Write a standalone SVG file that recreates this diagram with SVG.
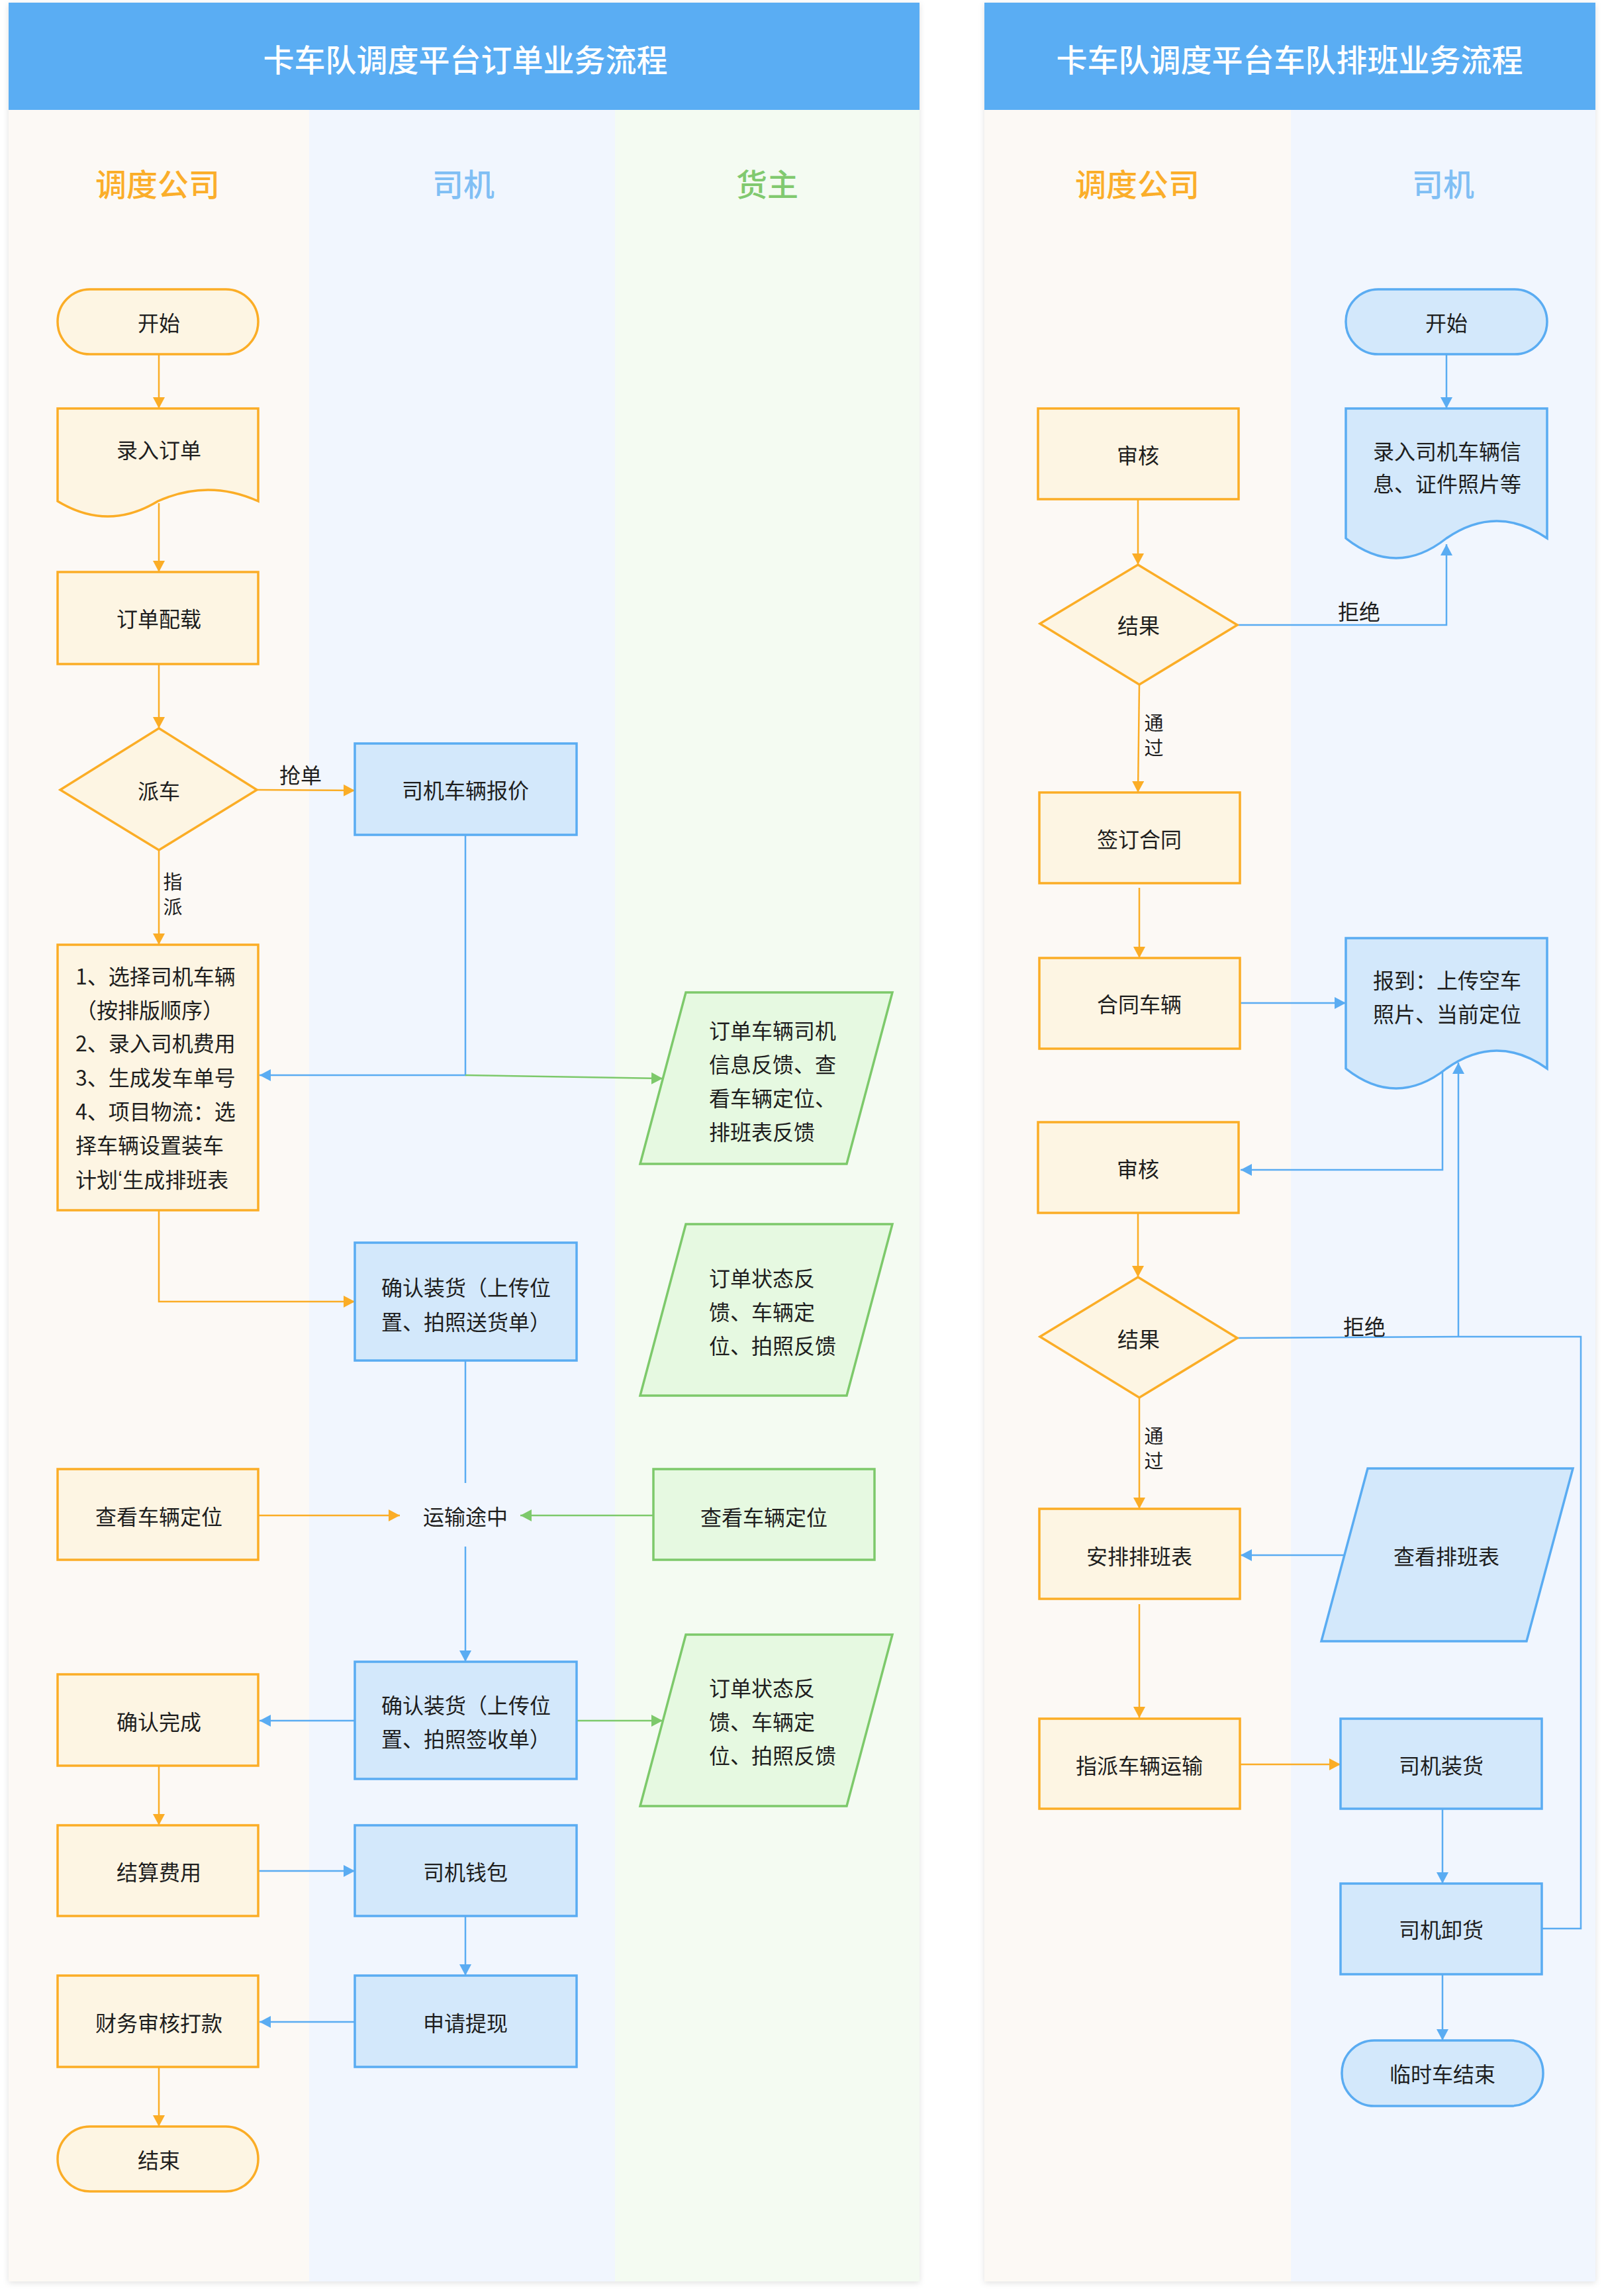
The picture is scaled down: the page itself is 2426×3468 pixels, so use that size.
<svg xmlns="http://www.w3.org/2000/svg" width="2426" height="3468" viewBox="0 0 2426 3468">
<style>
text{font-family:"Noto Sans CJK SC","Noto Sans",sans-serif;fill:#1e1e1e;font-size:32px}
.c{text-anchor:middle;dominant-baseline:central}
.l{text-anchor:start;dominant-baseline:central}
.v{font-size:29px;text-anchor:middle;dominant-baseline:central}
.title{fill:#ffffff;font-size:47px;font-weight:500;text-anchor:middle;dominant-baseline:central}
.lh{font-size:47px;font-weight:500;text-anchor:middle;dominant-baseline:central}
.o{fill:#FDF5E3;stroke:#FBAD26;stroke-width:3.5}
.b{fill:#D3E8FB;stroke:#5AACF2;stroke-width:3.5}
.g{fill:#E6F9E1;stroke:#7DC96B;stroke-width:3.5}
.lo{fill:none;stroke:#FBAD26;stroke-width:2.5}
.lb{fill:none;stroke:#5AACF2;stroke-width:2.5}
.lg{fill:none;stroke:#7DC96B;stroke-width:2.5}
</style>
<defs>
<filter id="sh" x="-5%" y="-5%" width="110%" height="110%">
<feDropShadow dx="0" dy="2" stdDeviation="5" flood-color="#000" flood-opacity="0.12"/>
</filter>
<marker id="ao" markerUnits="userSpaceOnUse" markerWidth="18" markerHeight="18" refX="17" refY="9" orient="auto"><path d="M0,0 L17,9 L0,18 Z" fill="#FBAD26"/></marker>
<marker id="ab" markerUnits="userSpaceOnUse" markerWidth="18" markerHeight="18" refX="17" refY="9" orient="auto"><path d="M0,0 L17,9 L0,18 Z" fill="#5AACF2"/></marker>
<marker id="ag" markerUnits="userSpaceOnUse" markerWidth="18" markerHeight="18" refX="17" refY="9" orient="auto"><path d="M0,0 L17,9 L0,18 Z" fill="#7DC96B"/></marker>
</defs>
<rect width="2426" height="3468" fill="#ffffff"/>

<g id="panel-left">
<rect x="13" y="4" width="1376" height="3442" fill="#ffffff" filter="url(#sh)"/>
<rect x="13" y="166" width="454" height="3280" fill="#FCF9F5"/>
<rect x="467" y="166" width="462" height="3280" fill="#F1F6FE"/>
<rect x="929" y="166" width="460" height="3280" fill="#F4FBF2"/>
<rect x="13" y="4" width="1376" height="162" fill="#5AADF3"/>
<text class="title" x="703" y="87">卡车队调度平台订单业务流程</text>
<text class="lh" x="238" y="275" style="fill:#FBAE2A">调度公司</text>
<text class="lh" x="700" y="275" style="fill:#80BFF4">司机</text>
<text class="lh" x="1159" y="275" style="fill:#81C96F">货主</text>
</g>

<g id="panel-right">
<rect x="1487" y="4" width="923" height="3442" fill="#ffffff" filter="url(#sh)"/>
<rect x="1487" y="166" width="463" height="3280" fill="#FCF9F5"/>
<rect x="1950" y="166" width="460" height="3280" fill="#F1F6FE"/>
<rect x="1487" y="4" width="923" height="162" fill="#5AADF3"/>
<text class="title" x="1948" y="87">卡车队调度平台车队排班业务流程</text>
<text class="lh" x="1718" y="275" style="fill:#FBAE2A">调度公司</text>
<text class="lh" x="2180" y="275" style="fill:#80BFF4">司机</text>
</g>

<g id="connectors">
<path class="lo" d="M240,535 V617" marker-end="url(#ao)"/>
<path class="lo" d="M240,760 V864" marker-end="url(#ao)"/>
<path class="lo" d="M240,1003 V1100" marker-end="url(#ao)"/>
<path class="lo" d="M388,1193 L536,1194" marker-end="url(#ao)"/>
<path class="lo" d="M240,1284 V1427" marker-end="url(#ao)"/>
<path class="lb" d="M703,1261 V1624 H392" marker-end="url(#ab)"/>
<path class="lg" d="M703,1624 L1001,1629" marker-end="url(#ag)"/>
<path class="lo" d="M240,1828 V1966 H536" marker-end="url(#ao)"/>
<path class="lb" d="M703,2055 V2240"/>
<path class="lo" d="M390,2289 H604" marker-end="url(#ao)"/>
<path class="lg" d="M987,2289 H786" marker-end="url(#ag)"/>
<path class="lb" d="M703,2336 V2510" marker-end="url(#ab)"/>
<path class="lb" d="M536,2599 H392" marker-end="url(#ab)"/>
<path class="lg" d="M871,2599 H1001" marker-end="url(#ag)"/>
<path class="lo" d="M240,2667 V2757" marker-end="url(#ao)"/>
<path class="lb" d="M390,2826 H536" marker-end="url(#ab)"/>
<path class="lb" d="M703,2894 V2984" marker-end="url(#ab)"/>
<path class="lb" d="M536,3054 H392" marker-end="url(#ab)"/>
<path class="lo" d="M240,3122 V3212" marker-end="url(#ao)"/>

<path class="lb" d="M2185,535 V617" marker-end="url(#ab)"/>
<path class="lo" d="M1719,754 V853" marker-end="url(#ao)"/>
<path class="lb" d="M1869,944 H2185 V822" marker-end="url(#ab)"/>
<path class="lo" d="M1721,1034 L1719,1197" marker-end="url(#ao)"/>
<path class="lo" d="M1721,1341 V1447" marker-end="url(#ao)"/>
<path class="lb" d="M1873,1515 H2033" marker-end="url(#ab)"/>
<path class="lb" d="M2179,1617 V1767 H1874" marker-end="url(#ab)"/>
<path class="lo" d="M1719,1832 V1929" marker-end="url(#ao)"/>
<path class="lb" d="M1869,2021 L2203,2019"/>
<path class="lb" d="M2329,2913 H2388 V2019 H2203"/>
<path class="lb" d="M2203,2019 V1605" marker-end="url(#ab)"/>
<path class="lo" d="M1721,2111 V2279" marker-end="url(#ao)"/>
<path class="lb" d="M2031,2349 H1874" marker-end="url(#ab)"/>
<path class="lo" d="M1721,2423 V2595" marker-end="url(#ao)"/>
<path class="lo" d="M1873,2665 H2025" marker-end="url(#ao)"/>
<path class="lb" d="M2179,2732 V2845" marker-end="url(#ab)"/>
<path class="lb" d="M2179,2982 V3082" marker-end="url(#ab)"/>
</g>

<g id="label-qiangdan"><text class="c" x="454" y="1169">抢单</text></g>
<g id="label-zhipai"><text class="v" x="261" y="1330">指</text><text class="v" x="261" y="1368">派</text></g>
<g id="label-jujue1"><text class="c" x="2053" y="922">拒绝</text></g>
<g id="label-tongguo1"><text class="v" x="1743" y="1090">通</text><text class="v" x="1743" y="1128">过</text></g>
<g id="label-jujue2"><text class="c" x="2061" y="2002">拒绝</text></g>
<g id="label-tongguo2"><text class="v" x="1743" y="2167">通</text><text class="v" x="1743" y="2205">过</text></g>

<g id="n-start"><rect class="o" x="87" y="437" width="303" height="98" rx="49"/><text class="c" x="240" y="486">开始</text></g>
<g id="n-input-order"><path class="o" d="M87,617 H390 V757 C339.5,734.3 289,734.3 238.5,757 C188,787.7 137.5,787.7 87,757 Z"/><text class="c" x="240" y="678">录入订单</text></g>
<g id="n-order-load"><rect class="o" x="87" y="864" width="303" height="139"/><text class="c" x="240" y="933">订单配载</text></g>
<g id="n-dispatch"><polygon class="o" points="240,1100 388,1193 240,1284 91,1193"/><text class="c" x="240" y="1193">派车</text></g>
<g id="n-quote"><rect class="b" x="536" y="1123" width="335" height="138"/><text class="c" x="703" y="1192">司机车辆报价</text></g>
<g id="n-select"><rect class="o" x="87" y="1427" width="303" height="401"/>
<text class="l" x="114" y="1473">1、选择司机车辆</text>
<text class="l" x="114" y="1524">（按排版顺序）</text>
<text class="l" x="114" y="1574">2、录入司机费用</text>
<text class="l" x="114" y="1626">3、生成发车单号</text>
<text class="l" x="114" y="1677">4、项目物流：选</text>
<text class="l" x="114" y="1728">择车辆设置装车</text>
<text class="l" x="114" y="1780">计划<tspan style="font-family:'Liberation Sans',sans-serif">‘</tspan>生成排班表</text>
</g>
<g id="n-feedback1"><polygon class="g" points="1036,1499 1348,1499 1279,1758 967,1758"/>
<text class="l" x="1071" y="1555">订单车辆司机</text>
<text class="l" x="1071" y="1606">信息反馈、查</text>
<text class="l" x="1071" y="1657">看车辆定位、</text>
<text class="l" x="1071" y="1708">排班表反馈</text>
</g>
<g id="n-confirm-load"><rect class="b" x="536" y="1877" width="335" height="178"/>
<text class="l" x="576" y="1943">确认装货（上传位</text>
<text class="l" x="576" y="1995">置、拍照送货单）</text>
</g>
<g id="n-feedback2"><polygon class="g" points="1036,1849 1348,1849 1279,2108 967,2108"/>
<text class="l" x="1071" y="1929">订单状态反</text>
<text class="l" x="1071" y="1980">馈、车辆定</text>
<text class="l" x="1071" y="2031">位、拍照反馈</text>
</g>
<g id="n-view-loc-o"><rect class="o" x="87" y="2219" width="303" height="137"/><text class="c" x="240" y="2289">查看车辆定位</text></g>
<g id="n-transit"><text class="c" x="703" y="2289">运输途中</text></g>
<g id="n-view-loc-g"><rect class="g" x="987" y="2219" width="334" height="137"/><text class="c" x="1154" y="2290">查看车辆定位</text></g>
<g id="n-confirm-sign"><rect class="b" x="536" y="2510" width="335" height="177"/>
<text class="l" x="576" y="2574">确认装货（上传位</text>
<text class="l" x="576" y="2625">置、拍照签收单）</text>
</g>
<g id="n-feedback3"><polygon class="g" points="1036,2469 1348,2469 1279,2728 967,2728"/>
<text class="l" x="1071" y="2548">订单状态反</text>
<text class="l" x="1071" y="2599">馈、车辆定</text>
<text class="l" x="1071" y="2650">位、拍照反馈</text>
</g>
<g id="n-complete"><rect class="o" x="87" y="2529" width="303" height="138"/><text class="c" x="240" y="2599">确认完成</text></g>
<g id="n-settle"><rect class="o" x="87" y="2757" width="303" height="137"/><text class="c" x="240" y="2826">结算费用</text></g>
<g id="n-wallet"><rect class="b" x="536" y="2757" width="335" height="137"/><text class="c" x="703" y="2826">司机钱包</text></g>
<g id="n-withdraw"><rect class="b" x="536" y="2984" width="335" height="138"/><text class="c" x="703" y="3054">申请提现</text></g>
<g id="n-finance"><rect class="o" x="87" y="2984" width="303" height="138"/><text class="c" x="240" y="3054">财务审核打款</text></g>
<g id="n-end"><rect class="o" x="87" y="3212" width="303" height="98" rx="49"/><text class="c" x="240" y="3261">结束</text></g>

<g id="r-start"><rect class="b" x="2033" y="437" width="304" height="98" rx="49"/><text class="c" x="2185" y="486">开始</text></g>
<g id="r-input-driver"><path class="b" d="M2033,617 H2337 V813 C2286.3,778.3 2235.7,778.3 2185,813 C2134.3,853 2083.7,853 2033,813 Z"/>
<text class="l" x="2074" y="680">录入司机车辆信</text>
<text class="l" x="2074" y="729">息、证件照片等</text>
</g>
<g id="r-review1"><rect class="o" x="1568" y="617" width="303" height="137"/><text class="c" x="1719" y="686">审核</text></g>
<g id="r-result1"><polygon class="o" points="1719,853 1869,944 1721,1034 1571,942"/><text class="c" x="1720" y="943">结果</text></g>
<g id="r-contract"><rect class="o" x="1570" y="1197" width="303" height="137"/><text class="c" x="1721" y="1266">签订合同</text></g>
<g id="r-contract-car"><rect class="o" x="1570" y="1447" width="303" height="137"/><text class="c" x="1721" y="1515">合同车辆</text></g>
<g id="r-report"><path class="b" d="M2033,1417 H2337 V1614 C2286.3,1578 2235.7,1578 2185,1614 C2134.3,1654 2083.7,1654 2033,1614 Z"/>
<text class="l" x="2074" y="1479">报到：上传空车</text>
<text class="l" x="2074" y="1530">照片、当前定位</text>
</g>
<g id="r-review2"><rect class="o" x="1568" y="1695" width="303" height="137"/><text class="c" x="1719" y="1764">审核</text></g>
<g id="r-result2"><polygon class="o" points="1719,1929 1869,2021 1721,2111 1571,2019"/><text class="c" x="1720" y="2021">结果</text></g>
<g id="r-schedule"><rect class="o" x="1570" y="2279" width="303" height="136"/><text class="c" x="1721" y="2349">安排排班表</text></g>
<g id="r-view-schedule"><polygon class="b" points="2066,2218 2376,2218 2306,2479 1996,2479"/><text class="c" x="2185" y="2349">查看排班表</text></g>
<g id="r-assign"><rect class="o" x="1570" y="2596" width="303" height="136"/><text class="c" x="1721" y="2665">指派车辆运输</text></g>
<g id="r-load"><rect class="b" x="2025" y="2596" width="304" height="136"/><text class="c" x="2177" y="2665">司机装货</text></g>
<g id="r-unload"><rect class="b" x="2025" y="2845" width="304" height="137"/><text class="c" x="2177" y="2913">司机卸货</text></g>
<g id="r-end"><rect class="b" x="2027" y="3082" width="304" height="99" rx="49"/><text class="c" x="2179" y="3131">临时车结束</text></g>
</svg>
